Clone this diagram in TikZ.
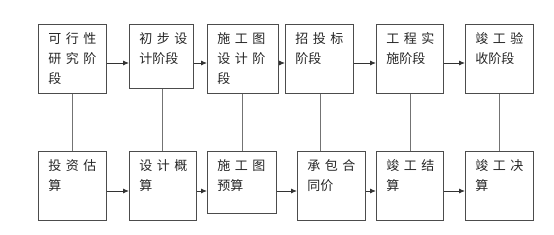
\documentclass[tikz,border=0pt]{standalone}
\usepackage{fontspec}
\setmainfont{Noto Sans CJK SC}
\usepackage{tikz}
\usetikzlibrary{arrows.meta,positioning,calc}

\newcommand\gp{\kern4.5pt}
% box text: width, height, lines
\newcommand\boxtxt[3]{\parbox[c][\dimexpr#2pt-16pt\relax][t]{\dimexpr#1pt-20pt\relax}{\fontsize{13pt}{20pt}\selectfont #3}}

\begin{document}
\begin{tikzpicture}[
    x=1pt, y=-1pt,
    stage/.style={rectangle, draw=black!70, line width=0.9pt, fill=white, inner xsep=10pt, inner ysep=8pt, anchor=north west, text=black!85},
    link/.style={draw=black!55, line width=0.9pt},
    arrow/.style={-{Latex[length=6pt,width=5pt]}, draw=black!80, line width=0.9pt}
]
\useasboundingbox (0,0) rectangle (554,235);

% top row
\node[stage] (feas) at (38,24) {\boxtxt{68}{69}{可\gp 行\gp 性\\研\gp 究\gp 阶\\段}};
\node[stage] (prelim) at (129,24) {\boxtxt{64}{64}{初\gp 步\gp 设\\计阶段}};
\node[stage] (drawing) at (207,24) {\boxtxt{71}{69}{施\gp 工\gp 图\\设\gp 计\gp 阶\\段}};
\node[stage] (bidding) at (285,24) {\boxtxt{68}{69}{招\gp 投\gp 标\\阶段}};
\node[stage] (build) at (376,24) {\boxtxt{67}{69}{工\gp 程\gp 实\\施阶段}};
\node[stage] (accept) at (465,24) {\boxtxt{68}{69}{竣\gp 工\gp 验\\收阶段}};

% bottom row
\node[stage] (estim) at (38,151) {\boxtxt{68}{69}{投\gp 资\gp 估\\算}};
\node[stage] (budget) at (129,151) {\boxtxt{67}{69}{设\gp 计\gp 概\\算}};
\node[stage] (prebud) at (207,151) {\boxtxt{69}{62}{施\gp 工\gp 图\\预算}};
\node[stage] (contract) at (297,151) {\boxtxt{68}{69}{承\gp 包\gp 合\\同价}};
\node[stage] (settle) at (376,151) {\boxtxt{67}{69}{竣\gp 工\gp 结\\算}};
\node[stage] (final) at (465,151) {\boxtxt{68}{69}{竣\gp 工\gp 决\\算}};

\coordinate (toprow) at (0,63);
\coordinate (botrow) at (0,191);

% stage flow
\draw[arrow] (feas.east |- toprow) -- (prelim.west |- toprow);
\draw[arrow] (prelim.east |- toprow) -- (drawing.west |- toprow);
\draw[arrow] (drawing.east |- toprow) -- (bidding.west |- toprow);
\draw[arrow] (bidding.east |- toprow) -- (build.west |- toprow);
\draw[arrow] (build.east |- toprow) -- (accept.west |- toprow);

% cost flow
\draw[arrow] (estim.east |- botrow) -- (budget.west |- botrow);
\draw[arrow] (budget.east |- botrow) -- (prebud.west |- botrow);
\draw[arrow] (prebud.east |- botrow) -- (contract.west |- botrow);
\draw[arrow] (contract.east |- botrow) -- (settle.west |- botrow);
\draw[arrow] (settle.east |- botrow) -- (final.west |- botrow);

% stage to cost
\draw[link] (feas.south) -- (estim.north);
\draw[link] ($(prelim.south)+(1,0)$) -- ($(budget.north -| prelim.south)+(1,0)$);
\draw[link] ($(drawing.south)+(-1,0)$) -- ($(prebud.north -| drawing.south)+(-1,0)$);
\draw[link] ($(bidding.south)+(1,0)$) -- ($(contract.north -| bidding.south)+(1,0)$);
\draw[link] (build.south) -- (settle.north);
\draw[link] (accept.south) -- (final.north);

\end{tikzpicture}
\end{document}
